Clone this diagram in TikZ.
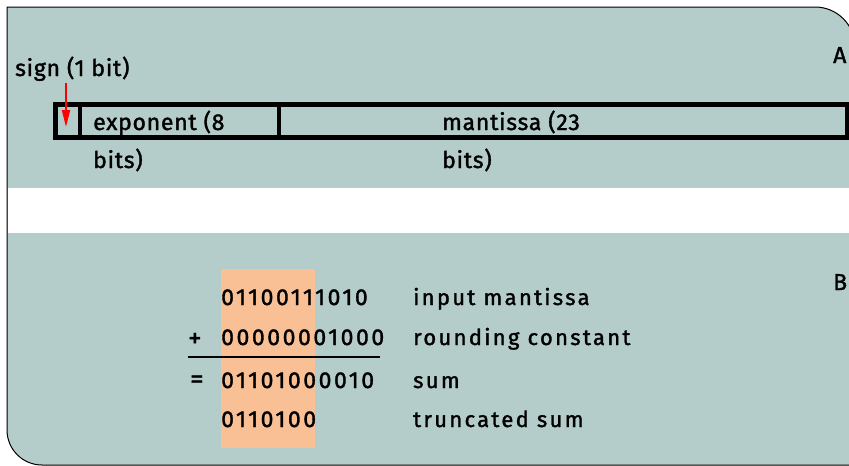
\documentclass[tikz,border=0pt]{standalone}
\usepackage{fontspec}
\setmainfont{Fira Sans}
\newfontfamily\lblfont[FakeBold=1.5,LetterSpace=3.2]{Fira Sans}
\newfontfamily\symfont[FakeBold=1.2]{Fira Sans}
\newfontfamily\spfont[FakeBold=1.5,LetterSpace=10.5]{Fira Sans}
\newfontfamily\digfont[FakeBold=1.5,LetterSpace=11]{Fira Sans}
\usetikzlibrary{arrows.meta}
\definecolor{teal}{HTML}{B4CDCA}
\definecolor{peach}{HTML}{F9C096}
\tikzset{
  lbl/.style={anchor=base west, inner sep=0pt, font=\lblfont\fontsize{23}{27}\selectfont},
  row/.style={anchor=base west, inner sep=0pt, font=\spfont\fontsize{22}{26}\selectfont},
  digits/.style={anchor=base west, inner sep=0pt, font=\digfont\fontsize{23}{27}\selectfont},
  sym/.style={anchor=base west, inner sep=0pt, font=\symfont\fontsize{27}{31}\selectfont},
  field/.style={draw=black, line width=5pt},
  divider/.style={draw=black, line width=4pt}
}
\begin{document}
\begin{tikzpicture}[x=1pt,y=-1pt]
\useasboundingbox (0,0) rectangle (849,466);
\begin{scope}
\clip (0,0) rectangle (849,466);
% panel
\path[fill=teal, draw=black, line width=1pt]
  (7,7) -- (815,7) arc[start angle=-90,end angle=0,radius=40] -- (855,470)
  -- (855,465) -- (42,465) arc[start angle=90,end angle=180,radius=35] -- cycle;
\fill[white] (7.5,188) rectangle (860,233);
\end{scope}
% field box
\draw[field] (55.5,104.5) rectangle (847,137.5);
\draw[divider] (80,104.5) -- (80,137.5);
\draw[divider] (279,104.5) -- (279,137.5);
\coordinate (sgtop) at (66,83);
\coordinate (sgbot) at (66,127);
\draw[red, line width=2pt, -{Triangle[width=8pt,length=17pt]}] (sgtop) -- (sgbot);
\node[lbl] (sign) at (15,76) {sign (1 bit)};
\node[lbl] (exp1) at (93,130) {exponent (8};
\node[lbl] (exp2) at (93,168) {bits)};
\node[lbl] (man1) at (442,130) {mantissa (23};
\node[lbl] (man2) at (442,168) {bits)};
\node[lbl] (A) at (833,63) {A};
\node[lbl] (B) at (833,290) {B};
% addition
\fill[peach] (221,269) rectangle (315,448);
\node[digits] (n1) at (221,305) {01100111010};
\node[digits] (n2) at (221,345) {00000001000};
\node[digits] (n3) at (221,388) {01101000010};
\node[digits] (n4) at (221,427) {0110100};
\node[sym] (plus) at (188,347) {+};
\node[sym] (eq) at (190,388) {=};
\coordinate (ruleL) at (188,356.5);
\coordinate (ruleR) at (380,356.5);
\draw[black, line width=2pt] (ruleL) -- (ruleR);
\node[row] (l1) at (413,305) {input mantissa};
\node[row] (l2) at (413,345) {rounding constant};
\node[row] (l3) at (413,388) {sum};
\node[row] (l4) at (413,427) {truncated sum};
\end{tikzpicture}
\end{document}
